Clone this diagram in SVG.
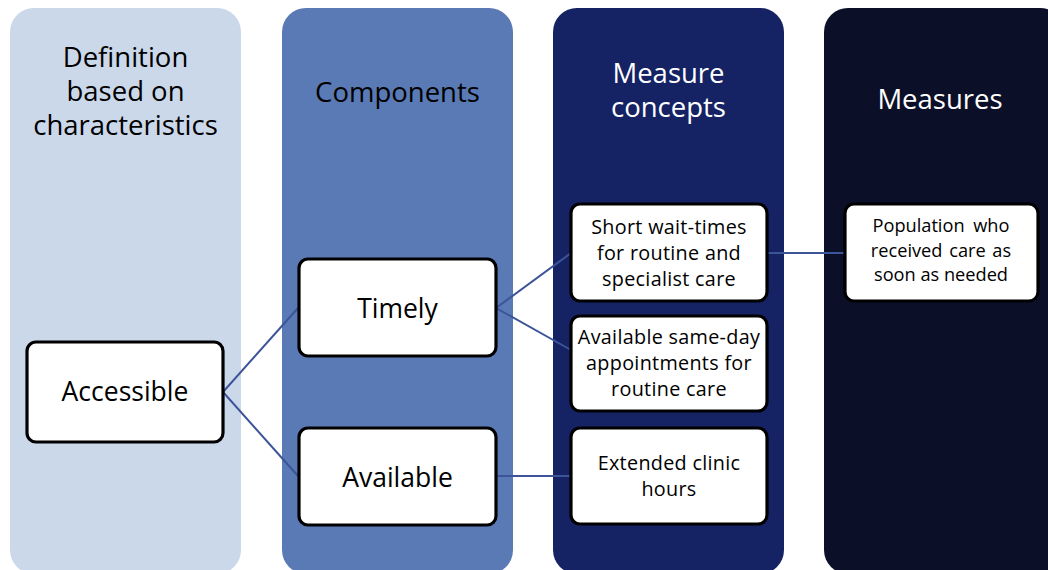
<svg xmlns="http://www.w3.org/2000/svg" width="1048" height="570" viewBox="0 0 1048 570">
  <style>
    .col { stroke: none; }
    .box { fill: #ffffff; stroke: #000000; stroke-width: 3.2; }
    .hd { font-family: "Open Sans", "Liberation Sans", sans-serif; font-size: 27.5px; text-anchor: middle; }
    .lbl { font-family: "Open Sans", "Liberation Sans", sans-serif; font-size: 26.5px; text-anchor: middle; fill: #000000; }
    .sm { font-family: "Open Sans", "Liberation Sans", sans-serif; font-size: 19.8px; letter-spacing: 0.3px; text-anchor: middle; fill: #000000; }
    .xs { font-family: "Open Sans", "Liberation Sans", sans-serif; font-size: 18.2px; text-anchor: middle; fill: #000000; }
    .link { fill: none; stroke: #3d5499; stroke-width: 2; }
  </style>
  <rect width="1048" height="570" fill="#ffffff"/>

  <!-- column backgrounds -->
  <g id="column-definition">
    <rect class="col" x="10" y="8" width="231" height="566" rx="24" fill="#cbd8ea"/>
    <text class="hd" fill="#000000"><tspan x="125.5" y="67">Definition</tspan><tspan x="125.5" y="101">based on</tspan><tspan x="125.5" y="135">characteristics</tspan></text>
  </g>
  <g id="column-components">
    <rect class="col" x="282" y="8" width="231" height="566" rx="24" fill="#5a7ab5"/>
    <text class="hd" fill="#000000" x="397.5" y="102">Components</text>
  </g>
  <g id="column-concepts">
    <rect class="col" x="553" y="8" width="231" height="566" rx="24" fill="#152263"/>
    <text class="hd" fill="#ffffff"><tspan x="668.5" y="83">Measure</tspan><tspan x="668.5" y="117">concepts</tspan></text>
  </g>
  <g id="column-measures">
    <rect class="col" x="824" y="8" width="240" height="566" rx="24" fill="#0b1028"/>
    <text class="hd" fill="#ffffff" x="940" y="109">Measures</text>
  </g>

  <!-- connectors -->
  <g id="connectors">
    <line class="link" x1="223" y1="392" x2="298" y2="308"/>
    <line class="link" x1="223" y1="392" x2="298" y2="476"/>
    <line class="link" x1="496" y1="308" x2="571" y2="253"/>
    <line class="link" x1="496" y1="308" x2="571" y2="350"/>
    <line class="link" x1="496" y1="476" x2="571" y2="476"/>
    <line class="link" x1="767" y1="253" x2="845" y2="253"/>
  </g>

  <g id="node-accessible">
    <rect class="box" x="27" y="342" width="196" height="100" rx="9"/>
    <text class="lbl" x="125" y="401">Accessible</text>
  </g>
  <g id="node-timely">
    <rect class="box" x="299" y="259" width="197" height="97" rx="9"/>
    <text class="lbl" x="397.5" y="318">Timely</text>
  </g>
  <g id="node-available">
    <rect class="box" x="299" y="428" width="197" height="97" rx="9"/>
    <text class="lbl" x="397.5" y="487">Available</text>
  </g>
  <g id="node-wait-times">
    <rect class="box" x="571" y="204" width="196" height="97" rx="9"/>
    <text class="sm"><tspan x="669" y="234">Short wait-times</tspan><tspan x="669" y="260">for routine and</tspan><tspan x="669" y="286">specialist care</tspan></text>
  </g>
  <g id="node-same-day">
    <rect class="box" x="571" y="316" width="196" height="95" rx="9"/>
    <text class="sm"><tspan x="669" y="344">Available same-day</tspan><tspan x="669" y="370">appointments for</tspan><tspan x="669" y="396">routine care</tspan></text>
  </g>
  <g id="node-extended-hours">
    <rect class="box" x="571" y="428" width="196" height="96" rx="9"/>
    <text class="sm"><tspan x="669" y="470">Extended clinic</tspan><tspan x="669" y="496">hours</tspan></text>
  </g>
  <g id="node-population">
    <rect class="box" x="845" y="204" width="193" height="97" rx="9"/>
    <text class="xs"><tspan x="941" y="232" word-spacing="4">Population who</tspan><tspan x="941" y="257" word-spacing="2">received care as</tspan><tspan x="941" y="281">soon as needed</tspan></text>
  </g>
</svg>
